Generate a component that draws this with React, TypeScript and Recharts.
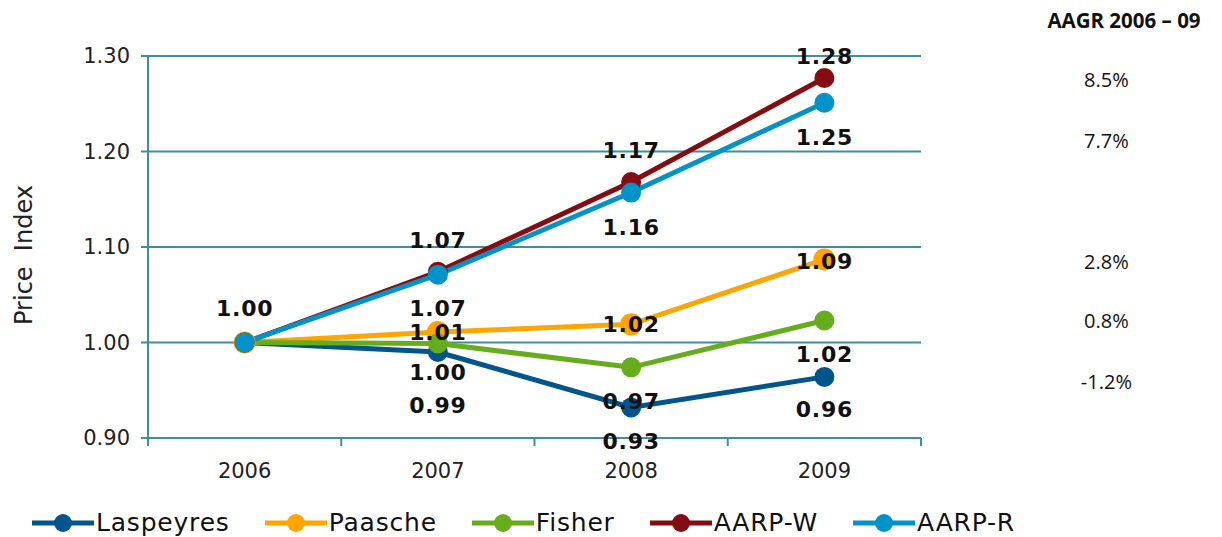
import { CartesianGrid, LabelList, Legend, Line, LineChart, XAxis, YAxis } from 'recharts'

const years = ['2006', '2007', '2008', '2009']
const laspeyres = [1.0, 0.99, 0.932, 0.964]
const paasche = [1.0, 1.011, 1.019, 1.087]
const fisher = [1.0, 0.999, 0.974, 1.023]
const aarpW = [1.0, 1.074, 1.168, 1.277]
const aarpR = [1.0, 1.071, 1.157, 1.251]
const yTicks = [0.9, 1.0, 1.1, 1.2, 1.3]
const aagr: Record<string, string> = {
  laspeyres: '-1.2%',
  paasche: '2.8%',
  fisher: '0.8%',
  aarpW: '8.5%',
  aarpR: '7.7%',
}

const GRID = '#3a909e'
const FONT = 'DejaVu Sans, Verdana, sans-serif'

// label offsets (px from the point), null = no label drawn
const series = [
  { key: 'laspeyres', name: 'Laspeyres', color: '#00558c', r: 10, labelDy: [null, 53, 34, 33], aagrDy: 5 },
  { key: 'paasche', name: 'Paasche', color: '#ffa500', r: 11, labelDy: [null, 1, 0, 2], aagrDy: 2 },
  { key: 'fisher', name: 'Fisher', color: '#66ad1e', r: 10, labelDy: [null, 29, 34, 34], aagrDy: 0 },
  { key: 'aarpW', name: 'AARP-W', color: '#850c10', r: 10, labelDy: [-34, -31, -32, -21], aagrDy: 2 },
  { key: 'aarpR', name: 'AARP-R', color: '#0093cb', r: 10, labelDy: [null, 34, 35, 35], aagrDy: 38 },
]

const rows = years.map((year, i) => ({
  year,
  laspeyres: laspeyres[i],
  paasche: paasche[i],
  fisher: fisher[i],
  aarpW: aarpW[i],
  aarpR: aarpR[i],
}))

function YTitle(props: any) {
  const vb = props.viewBox ?? { x: 0, y: 56, width: 148, height: 382 }
  const cx = vb.x + 24
  const cy = vb.y + vb.height / 2 + 8
  return (
    <text
      x={cx}
      y={cy}
      transform={`rotate(-90 ${cx} ${cy})`}
      textAnchor="middle"
      dominantBaseline="central"
      fontFamily={FONT}
      fontSize={24}
      fill="#222"
      style={{ whiteSpace: 'pre' }}
    >
      {'Price  Index'}
    </text>
  )
}

function YearTick(props: any) {
  const { x, y, payload, index } = props
  const half = payload?.offset || 96.6
  return (
    <g>
      <line x1={x - half} x2={x - half} y1={y} y2={y + 8} stroke={GRID} strokeWidth={2} />
      {index === years.length - 1 && (
        <line x1={x + half} x2={x + half} y1={y} y2={y + 8} stroke={GRID} strokeWidth={2} />
      )}
      <text x={x} y={y + 40} textAnchor="middle" fontFamily={FONT} fontSize={21} fill="#222">
        {payload.value}
      </text>
    </g>
  )
}

function makeLabel(s: (typeof series)[number]) {
  return (props: any) => {
    const { x, y, value, index } = props
    const dy = s.labelDy[index]
    return (
      <g>
        {dy !== null && dy !== undefined && (
          <text
            x={x}
            y={y + dy}
            textAnchor="middle"
            dominantBaseline="central"
            fontFamily={FONT}
            fontWeight="bold"
            fontSize={22}
            letterSpacing={0.8}
            fill="#111"
          >
            {Number(value).toFixed(2)}
          </text>
        )}
        {index === years.length - 1 && (
          <text
            x={x + 282}
            y={y + s.aagrDy}
            textAnchor="middle"
            dominantBaseline="central"
            fontFamily="Open Sans, sans-serif"
            fontSize={20}
            fill="#111"
          >
            {aagr[s.key]}
          </text>
        )}
      </g>
    )
  }
}

function LegendRow() {
  return (
    <div
      style={{
        height: 49,
        boxSizing: 'border-box',
        paddingTop: 20,
        paddingLeft: 32,
        display: 'flex',
        alignItems: 'center',
        gap: 35,
      }}
    >
      {series.map((s) => (
        <div key={s.key} style={{ display: 'flex', alignItems: 'center' }}>
          <svg width={62} height={20}>
            <line x1={0} x2={62} y1={10} y2={10} stroke={s.color} strokeWidth={5} />
            <circle cx={31} cy={10} r={9} fill={s.color} />
          </svg>
          <span style={{ marginLeft: 2, fontFamily: FONT, fontSize: 25, letterSpacing: 0.8, lineHeight: 1, color: '#111' }}>
            {s.name}
          </span>
        </div>
      ))}
    </div>
  )
}

export default function App() {
  return (
    <div style={{ position: 'absolute', left: 0, top: 0, width: 1222, height: 537, background: '#fff' }}>
      <div
        style={{
          position: 'absolute',
          left: 1024,
          top: 8,
          width: 200,
          textAlign: 'center',
          fontFamily: 'Open Sans, sans-serif',
          fontWeight: 700,
          fontSize: 20.5,
          lineHeight: '24px',
          color: '#111',
        }}
      >
        AAGR 2006 – 09
      </div>
      <LineChart width={1222} height={537} data={rows} margin={{ top: 56, right: 301, bottom: 0, left: 0 }}>
        <CartesianGrid stroke={GRID} strokeWidth={2} vertical={false} />
        <XAxis
          dataKey="year"
          scale="band"
          height={50}
          interval={0}
          tickSize={0}
          tickMargin={0}
          tickLine={false}
          axisLine={{ stroke: GRID, strokeWidth: 2 }}
          tick={(p: any) => <YearTick {...p} />}
        />
        <YAxis
          domain={[0.9, 1.3]}
          ticks={yTicks}
          width={148}
          tickSize={7}
          tickMargin={11}
          axisLine={{ stroke: GRID, strokeWidth: 2 }}
          tickLine={{ stroke: GRID, strokeWidth: 2 }}
          tick={{ fill: '#222', fontSize: 21, fontFamily: FONT }}
          tickFormatter={(v: number) => v.toFixed(2)}
          label={{ content: (p: any) => <YTitle {...p} /> }}
        />
        <YAxis
          yAxisId="r"
          orientation="right"
          width={0}
          domain={[0.9, 1.3]}
          tick={false}
          tickLine={false}
          axisLine={{ stroke: GRID, strokeWidth: 2 }}
        />
        <Legend verticalAlign="bottom" wrapperStyle={{ left: 0, bottom: 0, width: 1222 }} content={() => <LegendRow />} />
        {series.map((s) => (
          <Line
            key={s.key}
            dataKey={s.key}
            name={s.name}
            stroke={s.color}
            strokeWidth={5}
            dot={{ r: s.r, fill: s.color, stroke: 'none' }}
            activeDot={false}
            isAnimationActive={false}
          />
        ))}
        {series.map((s) => (
          <Line
            key={`${s.key}-labels`}
            dataKey={s.key}
            stroke="none"
            dot={false}
            activeDot={false}
            legendType="none"
            isAnimationActive={false}
          >
            <LabelList dataKey={s.key} content={makeLabel(s)} />
          </Line>
        ))}
      </LineChart>
    </div>
  )
}
